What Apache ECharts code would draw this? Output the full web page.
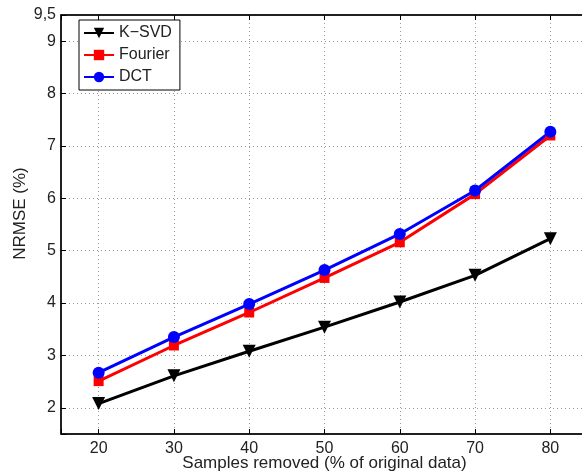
<!DOCTYPE html>
<html>
<head>
<meta charset="utf-8">
<script src="https://cdn.jsdelivr.net/npm/echarts@6/dist/echarts.min.js"></script>
<style>
  html, body { margin: 0; padding: 0; background: #fff; }
  #main { width: 582px; height: 475px; }
</style>
</head>
<body>
<div id="main"></div>
<script>
// 横轴：删除样本比例
var samplesRemoved = [20, 30, 40, 50, 60, 70, 80];
// 各方法 NRMSE (%)
var ksvd = [2.08, 2.61, 3.08, 3.54, 4.02, 4.53, 5.23];
var fourier = [2.51, 3.19, 3.82, 4.48, 5.16, 6.08, 7.2];
var dct = [2.67, 3.35, 3.98, 4.63, 5.32, 6.15, 7.27];
var seriesNames = ['K\u2212SVD', 'Fourier', 'DCT'];

function pairs(ys) {
    return samplesRemoved.map(function(x, i) { return [x, ys[i]]; });
}

var font = 'Liberation Sans, Arial, sans-serif';
var myChart = echarts.init(document.getElementById('main'));

var option = {
    animation: false,
    grid: {
        left: 61, top: 15, right: -6, bottom: 41,
        outerBoundsMode: 'none', containLabel: false,
        show: true, borderColor: '#000', borderWidth: 1
    },
    legend: {
        orient: 'vertical',
        left: 79, top: 20,
        padding: [5, 8, 5, 4],
        itemGap: 6,
        itemWidth: 30, itemHeight: 13,
        backgroundColor: '#fff',
        borderColor: '#000', borderWidth: 1, borderRadius: 0,
        textStyle: { fontFamily: font, fontSize: 16, color: '#222' },
        data: seriesNames
    },
    xAxis: [{
        type: 'value', min: 15, max: 85, minInterval: 10, maxInterval: 10, splitNumber: 7,
        name: 'Samples removed (% of original data)', nameLocation: 'middle', nameGap: 21,
        nameMoveOverlap: false,
        nameTextStyle: { fontFamily: font, fontSize: 17, color: '#222' },
        axisLine: { lineStyle: { color: '#000', width: 1.5 } },
        axisTick: { inside: true, length: 5, lineStyle: { color: '#000' } },
        axisLabel: {
            fontFamily: font, fontSize: 16, color: '#222', margin: 7,
            formatter: function(v) { return (v === 15 || v === 85) ? '' : v; }
        },
        splitLine: { show: true, lineStyle: { color: '#999', type: [1, 3], width: 1 } }
    }, {
        type: 'value', position: 'top', min: 15, max: 85, minInterval: 10, maxInterval: 10, splitNumber: 7,
        axisLine: { lineStyle: { color: '#000', width: 1.5 } },
        axisTick: { inside: true, length: 5, lineStyle: { color: '#000' } },
        axisLabel: { show: false },
        splitLine: { show: false }
    }],
    yAxis: {
        type: 'value', min: 1.5, max: 9.5, minInterval: 1, maxInterval: 1, splitNumber: 8,
        name: 'NRMSE (%)', nameLocation: 'middle', nameGap: 32,
        nameMoveOverlap: false,
        nameTextStyle: { fontFamily: font, fontSize: 17, color: '#222', padding: [0, 0, 0, 22] },
        axisLine: { lineStyle: { color: '#000', width: 1.5 } },
        axisTick: { inside: true, length: 5, lineStyle: { color: '#000' } },
        axisLabel: {
            fontFamily: font, fontSize: 16, color: '#222', margin: 5,
            formatter: function(v) {
                if (v === 9.5) return '9,5';
                if (v === 1.5) return '';
                return v;
            }
        },
        splitLine: { show: true, lineStyle: { color: '#999', type: [1, 3], width: 1 } }
    },
    series: [{
        name: seriesNames[0], type: 'line', data: pairs(ksvd),
        symbol: 'triangle', symbolRotate: 180, symbolSize: 13,
        lineStyle: { color: '#000', width: 3 }, itemStyle: { color: '#000' }
    }, {
        name: seriesNames[1], type: 'line', data: pairs(fourier),
        symbol: 'rect', symbolSize: 10,
        lineStyle: { color: '#ff0000', width: 3 }, itemStyle: { color: '#ff0000' }
    }, {
        name: seriesNames[2], type: 'line', data: pairs(dct),
        symbol: 'circle', symbolSize: 12,
        lineStyle: { color: '#0000ff', width: 3 }, itemStyle: { color: '#0000ff' }
    }]
};
myChart.setOption(option);
</script>
</body>
</html>
